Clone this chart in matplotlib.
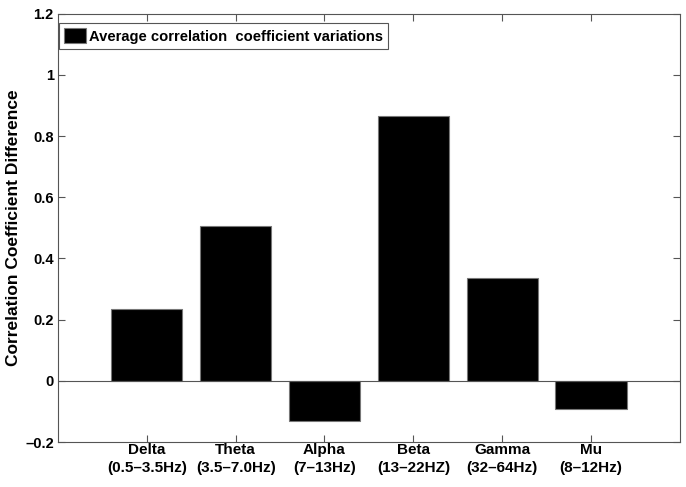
import numpy as np
import matplotlib
matplotlib.use("Agg")
import matplotlib.pyplot as plt

# band names / values
bands = ["Delta\n(0.5–3.5Hz)", "Theta\n(3.5–7.0Hz)", "Alpha\n(7–13Hz)",
         "Beta\n(13–22HZ)", "Gamma\n(32–64Hz)", "Mu\n(8–12Hz)"]
corr_diff = [0.236, 0.506, -0.132, 0.864, 0.337, -0.093]
yticks = [-0.2, 0, 0.2, 0.4, 0.6, 0.8, 1, 1.2]
ytick_labels = ["–0.2", "0", "0.2", "0.4", "0.6", "0.8", "1", "1.2"]

plt.rcParams["font.family"] = ["Liberation Sans", "DejaVu Sans"]

fig = plt.figure(figsize=(6.86, 4.87), dpi=100)
ax = fig.add_axes([0.0845, 0.0924, 0.9065, 0.8796])

x = np.arange(1, len(bands) + 1)
ax.bar(x, corr_diff, width=0.8, color="black", edgecolor="#777777",
       linewidth=0.8, label="Average correlation  coefficient variations", zorder=2)
ax.axhline(0, color="#555555", linewidth=0.8, zorder=3)

ax.set_xlim(0, 7)
ax.set_ylim(-0.2, 1.2)
ax.set_xticks(x)
ax.set_xticklabels(bands, fontweight="bold", fontsize=11, linespacing=1.3)
ax.set_yticks(yticks)
ax.set_yticklabels(ytick_labels, fontweight="bold", fontsize=10.5)
ax.tick_params(direction="in", length=5, width=0.8, color="#555555",
               top=True, right=True)
ax.tick_params(axis="x", pad=1)
ax.tick_params(axis="y", pad=3)
for s in ax.spines.values():
    s.set_color("#555555")
    s.set_linewidth(0.8)

ax.set_ylabel("Correlation Coefficient Difference", fontweight="bold",
              fontsize=12.5)
ax.yaxis.set_label_coords(-0.06, 0.5)

leg = ax.legend(loc="upper left", prop={"weight": "bold", "size": 10.6},
                fancybox=False, edgecolor="#555555", framealpha=1,
                handlelength=1.5, handleheight=1.2, handletextpad=0.15,
                borderaxespad=0.0, borderpad=0.35,
                bbox_to_anchor=(0.002, 0.978))
leg.get_frame().set_linewidth(0.8)

fig.savefig("out.png", dpi=100)
